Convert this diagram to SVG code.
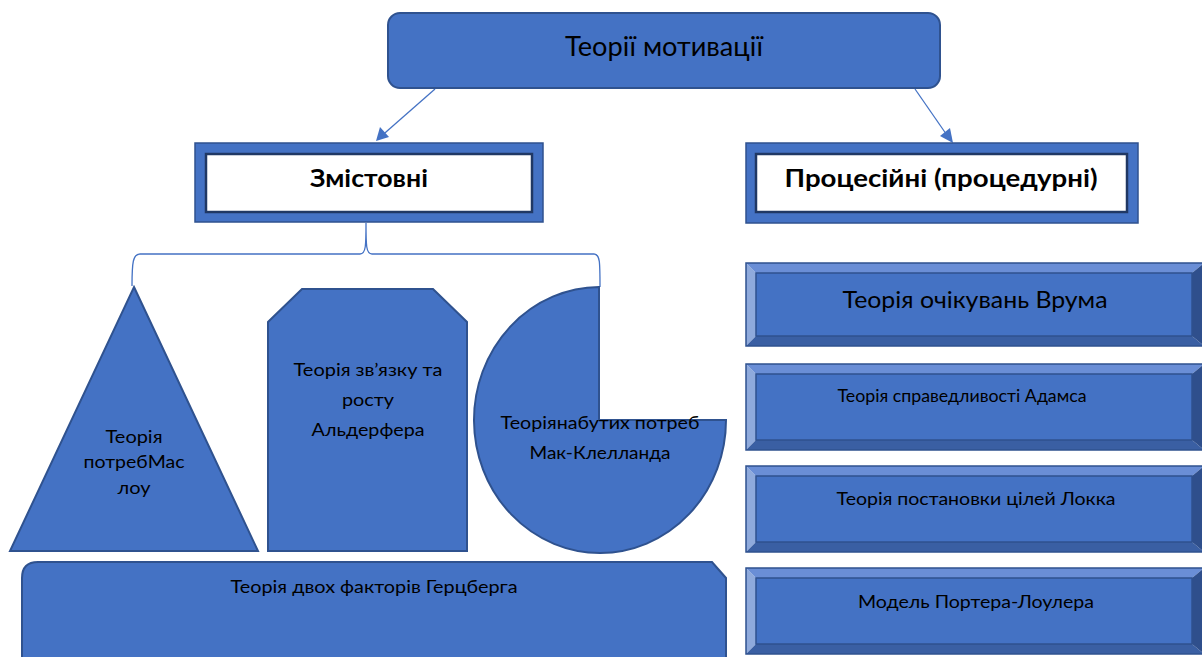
<svg xmlns="http://www.w3.org/2000/svg" width="1202" height="657" viewBox="0 0 1202 657">
<style>
.sh{fill:#4472c4;stroke:#2f528f;stroke-width:2}
.t{font-family:Lato,"Liberation Sans",sans-serif;fill:#000;text-anchor:middle}
.b{font-family:Lato,"Liberation Sans",sans-serif;font-weight:bold;fill:#000;text-anchor:middle}
.con{fill:none;stroke:#4472c4;stroke-width:1.3}
.frame{fill:#4472c4;stroke:#2f528f;stroke-width:1.5}
.inner{fill:#fff;stroke:#203864;stroke-width:2.5}
.bl{fill:#8faadc}.bt{fill:#6a8ed6}.bb{fill:#3a5fa3}.br{fill:#2f4f8c}
.bi{fill:#4472c4;stroke:#2f528f;stroke-width:1.5}
</style>
<rect width="1202" height="657" fill="#fff"/>
<g id="connectors">
<line class="con" x1="435" y1="89" x2="378" y2="139"/>
<path d="M376,141 l4,-14 l9,10 z" fill="#4472c4"/>
<line class="con" x1="915" y1="89" x2="951" y2="141"/>
<path d="M953,143 l-13,-7 l10,-8 z" fill="#4472c4"/>
<path class="con" d="M366,223 C366,245 366,254 360,254 L140,254 C133,254 132,262 132,286 M366,223 C366,245 366,254 372,254 L594,254 C600,254 600,262 600,287"/>
</g>
<g id="top">
<rect class="sh" x="388" y="13" width="552" height="75" rx="12"/>
<text class="t" x="664" y="56" font-size="27" textLength="198" lengthAdjust="spacingAndGlyphs">Теорії мотивації</text>
</g>
<g id="zmistovni">
<rect class="frame" x="195" y="143" width="348" height="79"/>
<rect class="inner" x="206" y="154" width="326" height="58"/>
<text class="b" x="369" y="187" font-size="24" textLength="118" lengthAdjust="spacingAndGlyphs">Змістовні</text>
</g>
<g id="protsesiini">
<rect class="frame" x="746" y="143" width="392" height="80"/>
<rect class="inner" x="756" y="154" width="371" height="58"/>
<text class="b" x="941" y="187" font-size="24" textLength="313" lengthAdjust="spacingAndGlyphs">Процесійні (процедурні)</text>
</g>
<g id="maslow">
<polygon class="sh" points="134,287 258,551 10,551"/>
<text class="t" font-size="18"><tspan x="134" y="443" textLength="57" lengthAdjust="spacingAndGlyphs">Теорія</tspan><tspan x="134" y="468" textLength="101" lengthAdjust="spacingAndGlyphs">потребМас</tspan><tspan x="134" y="494" textLength="33" lengthAdjust="spacingAndGlyphs">лоу</tspan></text>
</g>
<g id="alderfer">
<polygon class="sh" points="302,289 433,289 467,322 467,551 268,551 268,322"/>
<text class="t" font-size="18"><tspan x="368" y="376" textLength="149" lengthAdjust="spacingAndGlyphs">Теорія зв’язку та</tspan><tspan x="368" y="406" textLength="52" lengthAdjust="spacingAndGlyphs">росту</tspan><tspan x="368" y="436" textLength="113" lengthAdjust="spacingAndGlyphs">Альдерфера</tspan></text>
</g>
<g id="mcclelland">
<path class="sh" d="M599,287 L599,420 L726,420 A126,133 0 1 1 599,287 Z"/>
<text class="t" font-size="18"><tspan x="600" y="429" textLength="199" lengthAdjust="spacingAndGlyphs">Теоріянабутих потреб</tspan><tspan x="600" y="459" textLength="141" lengthAdjust="spacingAndGlyphs">Мак-Клелланда</tspan></text>
</g>
<g id="herzberg">
<path class="sh" d="M22,670 L22,578 Q22,562 38,562 L712,562 L726,578 L726,670 Z"/>
<text class="t" x="374" y="593" font-size="18" textLength="287" lengthAdjust="spacingAndGlyphs">Теорія двох факторів Герцберга</text>
</g>
<g id="vroom">
<polygon class="bl" points="746,263 756,273 756,336 746,346"/>
<polygon class="bt" points="746,263 1204,263 1192,273 756,273"/>
<polygon class="bb" points="746,346 756,336 1192,336 1204,346"/>
<polygon class="br" points="1204,263 1192,273 1192,336 1204,346"/>
<rect class="bi" x="756" y="273" width="436" height="63"/>
<rect x="746" y="263" width="458" height="83" fill="none" stroke="#2f528f" stroke-width="1.5"/>
<text class="t" x="975" y="308" font-size="23" textLength="265" lengthAdjust="spacingAndGlyphs">Теорія очікувань Врума</text>
</g>
<g id="adams">
<polygon class="bl" points="746,364 756,374 756,440 746,450"/>
<polygon class="bt" points="746,364 1204,364 1192,374 756,374"/>
<polygon class="bb" points="746,450 756,440 1192,440 1204,450"/>
<polygon class="br" points="1204,364 1192,374 1192,440 1204,450"/>
<rect class="bi" x="756" y="374" width="436" height="66"/>
<rect x="746" y="364" width="458" height="86" fill="none" stroke="#2f528f" stroke-width="1.5"/>
<text class="t" x="962" y="402" font-size="18" textLength="249" lengthAdjust="spacingAndGlyphs">Теорія справедливості Адамса</text>
</g>
<g id="locke">
<polygon class="bl" points="746,466 756,476 756,542 746,552"/>
<polygon class="bt" points="746,466 1204,466 1192,476 756,476"/>
<polygon class="bb" points="746,552 756,542 1192,542 1204,552"/>
<polygon class="br" points="1204,466 1192,476 1192,542 1204,552"/>
<rect class="bi" x="756" y="476" width="436" height="66"/>
<rect x="746" y="466" width="458" height="86" fill="none" stroke="#2f528f" stroke-width="1.5"/>
<text class="t" x="976" y="505" font-size="18" textLength="279" lengthAdjust="spacingAndGlyphs">Теорія постановки цілей Локка</text>
</g>
<g id="porter">
<polygon class="bl" points="746,568 756,578 756,644 746,654"/>
<polygon class="bt" points="746,568 1204,568 1192,578 756,578"/>
<polygon class="bb" points="746,654 756,644 1192,644 1204,654"/>
<polygon class="br" points="1204,568 1192,578 1192,644 1204,654"/>
<rect class="bi" x="756" y="578" width="436" height="66"/>
<rect x="746" y="568" width="458" height="86" fill="none" stroke="#2f528f" stroke-width="1.5"/>
<text class="t" x="976" y="608" font-size="18" textLength="236" lengthAdjust="spacingAndGlyphs">Модель Портера-Лоулера</text>
</g>
</svg>
